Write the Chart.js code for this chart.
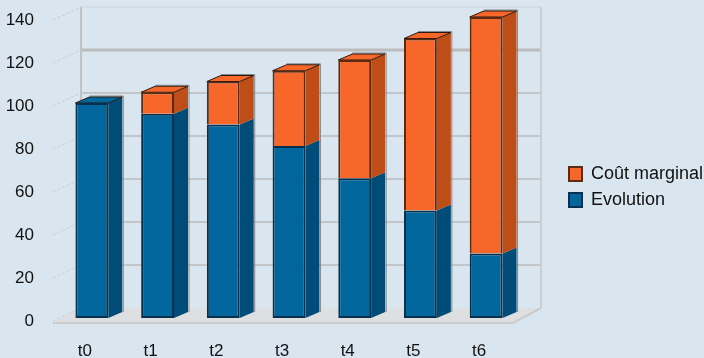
<!DOCTYPE html>
<html>
<head>
<meta charset="utf-8">
<style>
  html, body { margin: 0; padding: 0; background: #d9e5ef; overflow: hidden; }
  canvas { display: block; }
</style>
</head>
<body>
<canvas id="myChart" width="704" height="358"></canvas>
<script src="https://cdn.jsdelivr.net/npm/chart.js@4"></script>
<script>
const categories = ['t0', 't1', 't2', 't3', 't4', 't5', 't6']
const evolution = [100, 95, 90, 80, 65, 50, 30]
const coutMarginal = [0, 10, 20, 35, 55, 80, 110]

// fake 3d: pseudo depth drawn around the real bars and scales
const barDepth = { x: 14, y: -6 }
const wallDepth = { x: 22, y: -10 }
const faces = {
  'Evolution': { side: '#004c78', top: '#00689c' },
  'Coût marginal': { side: '#bf4d17', top: '#f8672a' }
}

function poly(ctx, pts, fill, stroke, lw) {
  ctx.beginPath()
  pts.forEach((p, i) => i ? ctx.lineTo(p[0], p[1]) : ctx.moveTo(p[0], p[1]))
  ctx.closePath()
  if (fill) { ctx.fillStyle = fill; ctx.fill() }
  if (stroke) { ctx.strokeStyle = stroke; ctx.lineWidth = lw || 1; ctx.stroke() }
}

const depthPlugin = {
  id: 'depth',
  afterLayout(chart) {
    // legend sits to the right of the plot, outside the chart area
    const lg = chart.legend
    lg.left = 561; lg.top = 157; lg.right = 704; lg.bottom = 220
  },
  beforeDatasetsDraw(chart) {
    const ctx = chart.ctx, y = chart.scales.y, a = chart.chartArea
    const wx0 = a.left + wallDepth.x, wx1 = a.right + wallDepth.x
    const fy = y.getPixelForValue(0)
    ctx.save()
    // floor
    poly(ctx, [[a.left - 6, fy + 5], [a.right - 6, fy + 5], [wx1, fy + wallDepth.y], [wx0, fy + wallDepth.y]], '#dedfe1')
    ctx.strokeStyle = '#c9cbcd'; ctx.lineWidth = 2
    ctx.beginPath(); ctx.moveTo(a.left - 6, fy + 5); ctx.lineTo(a.right - 6, fy + 5); ctx.lineTo(wx1, fy + wallDepth.y); ctx.stroke()
    // wall grid and dashed left side
    y.ticks.forEach(t => {
      const py = y.getPixelForValue(t.value)
      if (t.value > 0) {
        ctx.strokeStyle = t.value === 120 ? '#bcbcbc' : (t.value === 140 ? '#cfd3d6' : '#c3c6c9')
        ctx.lineWidth = t.value === 120 ? 3 : (t.value === 140 ? 1 : 2)
        ctx.beginPath(); ctx.moveTo(wx0, py + wallDepth.y); ctx.lineTo(wx1, py + wallDepth.y); ctx.stroke()
      }
      ctx.strokeStyle = '#c9cccf'; ctx.lineWidth = 1
      ctx.setLineDash([3, 2])
      ctx.beginPath(); ctx.moveTo(a.left - 6, py + 3); ctx.lineTo(wx0, py + wallDepth.y); ctx.stroke()
      ctx.setLineDash([])
    })
    // wall uprights
    const top = y.getPixelForValue(140) + wallDepth.y
    ctx.strokeStyle = '#c0c2c4'; ctx.lineWidth = 2
    ctx.beginPath(); ctx.moveTo(wx0, top); ctx.lineTo(wx0, fy + wallDepth.y); ctx.stroke()
    ctx.strokeStyle = '#cbced1'
    ctx.beginPath(); ctx.moveTo(wx1, top); ctx.lineTo(wx1, fy + wallDepth.y); ctx.stroke()
    // bar side + top faces
    chart.data.datasets.forEach((ds, di) => {
      const f = faces[ds.label]
      chart.getDatasetMeta(di).data.forEach((bar, i) => {
        if (!ds.data[i]) return
        const p = bar.getProps(['x', 'y', 'base', 'width'], true)
        const r = p.x + p.width / 2, l = p.x - p.width / 2
        const dx = barDepth.x, dy = barDepth.y
        poly(ctx, [[r, p.y], [r + dx, p.y + dy], [r + dx, p.base + dy], [r, p.base]], f.side)
        const isTop = di === chart.data.datasets.length - 1 || !chart.data.datasets[di + 1].data[i]
        if (isTop) {
          // grey halo on the far edges, then the dark top outline
          ctx.strokeStyle = '#85888a'; ctx.lineWidth = 1
          ctx.beginPath(); ctx.moveTo(l + dx, p.y + dy - 1); ctx.lineTo(r + dx + 1, p.y + dy - 1); ctx.lineTo(r + dx + 1, fy + dy); ctx.stroke()
          poly(ctx, [[l, p.y], [l + dx, p.y + dy], [r + dx, p.y + dy], [r, p.y]], f.top, '#2b1a12', 1)
        }
      })
    })
    ctx.restore()
  }
}

new Chart(document.getElementById('myChart'), {
  type: 'bar',
  data: {
    labels: categories,
    datasets: [
      { label: 'Evolution', data: evolution, backgroundColor: '#00669b', borderColor: '#06304e', borderWidth: 2, borderSkipped: false },
      { label: 'Coût marginal', data: coutMarginal, backgroundColor: '#f8672a', borderColor: '#5a2a12', borderWidth: 2, borderSkipped: 'bottom' }
    ]
  },
  options: {
    responsive: false,
    animation: false,
    layout: { padding: { top: 17, right: 185, left: 0, bottom: 0 } },
    datasets: { bar: { barPercentage: 0.5, categoryPercentage: 1 } },
    plugins: {
      tooltip: { enabled: false },
      legend: {
        position: 'chartArea',
        align: 'start',
        reverse: true,
        labels: {
          boxWidth: 13,
          boxHeight: 14,
          padding: 8,
          color: '#111',
          font: { family: 'Liberation Sans', size: 18 }
        }
      }
    },
    scales: {
      x: {
        stacked: true,
        grid: { display: false, drawTicks: false },
        border: { display: false },
        afterFit(s) { s.height = 40 },
        ticks: { labelOffset: -7, padding: 23, maxRotation: 0, color: '#111', font: { family: 'Liberation Sans', size: 17 } }
      },
      y: {
        stacked: true,
        min: 0,
        max: 140,
        // tick length (not padding) holds the labels away, padding would push the top of the plot down
        grid: { display: false, drawTicks: true, tickLength: 25 },
        border: { display: false },
        afterFit(s) { s.width = 59 },
        ticks: { stepSize: 20, labelOffset: 3, padding: 0, color: '#111', font: { family: 'Liberation Sans', size: 17 } }
      }
    }
  },
  plugins: [depthPlugin]
})
</script>
</body>
</html>
